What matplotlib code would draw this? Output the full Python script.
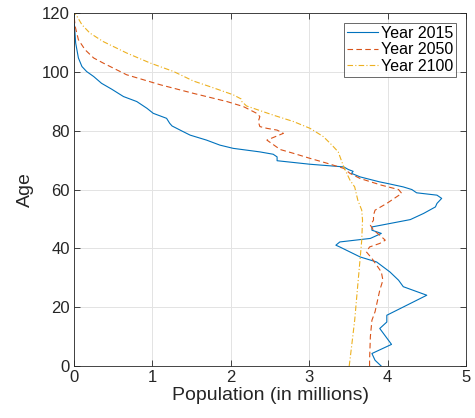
import matplotlib
matplotlib.use("Agg")
import matplotlib.pyplot as plt

# population (millions) vs age
age_2015 = [0, 2, 4.3, 7.4, 12.8, 15, 17.3, 24.1, 27, 29.2, 32, 35.4, 37.1, 40.5, 41.1,
            42.2, 43.4, 45.1, 46.2, 47.3, 49.8, 51.9, 54.1, 55.3, 57, 58.1, 58.9, 60,
            60.9, 62, 62.6, 64.3, 65.5, 66.2, 66.8, 67.7, 68.6, 69.8, 71.1, 72, 72.8,
            74, 75.1, 76.8, 78.5, 79.7, 81.6, 82.5, 84.2, 85.9, 87.6, 89.9, 91.6, 94.1,
            96.1, 98.4, 100.1, 101.8, 104.7, 109.8, 117.7, 120]
pop_2015 = [3.92, 3.84, 3.80, 4.05, 3.90, 3.99, 3.99, 4.50, 4.20, 4.14, 4.03, 3.86, 3.65,
            3.39, 3.34, 3.39, 3.78, 3.92, 3.80, 3.80, 4.29, 4.46, 4.61, 4.63, 4.69, 4.63,
            4.37, 4.31, 4.20, 4.01, 3.90, 3.65, 3.54, 3.56, 3.50, 3.44, 3.01, 2.59, 2.59,
            2.54, 2.37, 2.03, 1.86, 1.69, 1.48, 1.39, 1.25, 1.22, 1.18, 1.01, 0.93, 0.80,
            0.63, 0.48, 0.35, 0.25, 0.16, 0.10, 0.055, 0.02, 0.0, 0.0]

age_2050 = [0, 2, 10, 15.6, 18.5, 25.8, 29.2, 32, 34.3, 36.6, 38.8, 40.5, 41.7, 42.8,
            44.5, 46.2, 47.9, 49.6, 51.3, 53, 55.3, 58.7, 60, 61.5, 63.75, 65.5, 67.2,
            69, 70.6, 72.3, 73.6, 76.8, 79.1, 80.2, 80.8, 81.4, 83.1, 84.8, 85.9, 88.2,
            89.9, 92.7, 95.6, 99, 103, 104.7, 107.5, 110.9, 115.5, 118.9, 120]
pop_2050 = [3.77, 3.77, 3.78, 3.80, 3.84, 3.90, 3.94, 3.92, 3.86, 3.80, 3.73, 3.77, 3.90,
            3.97, 3.90, 3.82, 3.78, 3.82, 3.82, 3.84, 3.99, 4.18, 4.14, 3.92, 3.65, 3.52,
            3.44, 3.22, 3.01, 2.80, 2.63, 2.46, 2.67, 2.59, 2.46, 2.37, 2.35, 2.37, 2.33,
            2.16, 1.95, 1.52, 1.10, 0.67, 0.37, 0.25, 0.14, 0.055, 0.013, 0.0, 0.0]

age_2100 = [0, 6.6, 15.6, 24.7, 33.7, 42.8, 49.6, 53, 56.4, 60.9, 63.2, 67.7, 72.8, 75.1,
            78, 80.8, 83.1, 85.3, 88.4, 89.9, 90.8, 92.2, 95, 96.9, 100.1, 103, 106.4,
            110.3, 113.2, 116, 119.4, 120]
pop_2100 = [3.51, 3.54, 3.58, 3.61, 3.64, 3.67, 3.68, 3.67, 3.62, 3.58, 3.52, 3.44, 3.37,
            3.29, 3.18, 3.01, 2.80, 2.54, 2.20, 2.14, 2.13, 2.03, 1.73, 1.52, 1.27, 0.97,
            0.67, 0.37, 0.20, 0.10, 0.025, 0.0]

plt.rcParams['font.family'] = ['Liberation Sans', 'DejaVu Sans']

fig = plt.figure(figsize=(4.75, 4.18), dpi=100)
ax = fig.add_axes([0.156, 0.124, 0.825, 0.845])

ax.plot(pop_2015, age_2015, color='#0072BD', lw=0.8, ls='-', label='Year 2015')
ax.plot(pop_2050, age_2050, color='#D95319', lw=0.8, ls=(0, (5, 3)), label='Year 2050')
ax.plot(pop_2100, age_2100, color='#EDB120', lw=0.8, ls=(0, (5, 2, 1, 2)), label='Year 2100')

ax.set_xlim(0, 5)
ax.set_ylim(0, 120)
ax.set_xticks([0, 1, 2, 3, 4, 5])
ax.set_yticks([0, 20, 40, 60, 80, 100, 120])
ax.grid(True, color='#e3e3e3', lw=0.7)
ax.set_axisbelow(True)
ax.tick_params(direction='in', top=True, right=True, labelsize=12, colors='#262626',
               length=4, width=0.6, pad=3)
for s in ax.spines.values():
    s.set_color('#262626')
    s.set_linewidth(0.6)

ax.set_xlabel('Population (in millions)', fontsize=14, color='#262626', labelpad=1)
ax.set_ylabel('Age', fontsize=14, color='#262626', labelpad=6)

leg = ax.legend(loc='upper right', fontsize=11.5, frameon=True, fancybox=False,
                edgecolor='#262626', handlelength=1.9, handletextpad=0.2,
                borderpad=0.2, labelspacing=0.1, borderaxespad=0.6)
leg.get_frame().set_linewidth(0.6)

fig.savefig('out.png', dpi=100)
